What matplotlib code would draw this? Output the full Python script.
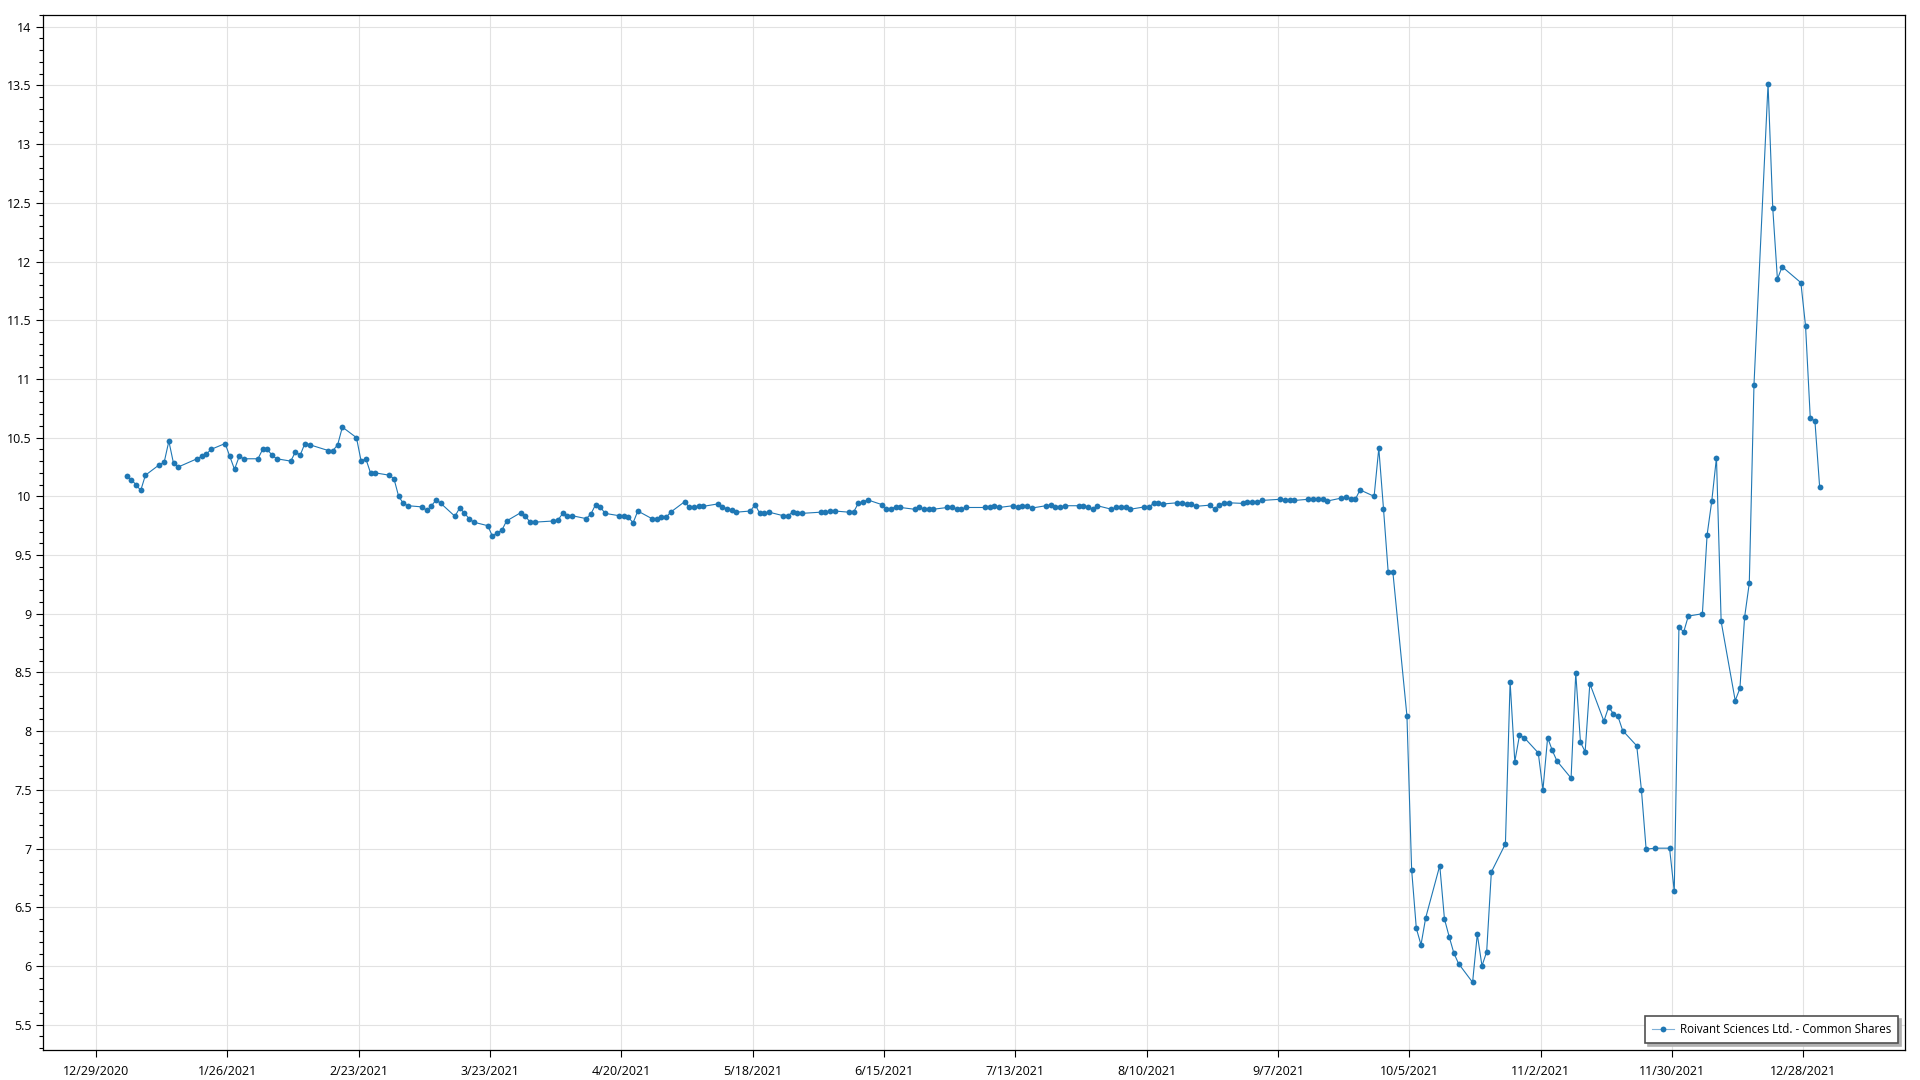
import numpy as np
import pandas as pd
import matplotlib
matplotlib.use("Agg")
import matplotlib.pyplot as plt
import matplotlib.dates as mdates
from matplotlib.ticker import MultipleLocator, FuncFormatter, FixedLocator

plt.rcParams['font.family'] = ['Open Sans', 'DejaVu Sans']

# trading days and closing prices, per month of 2021
jan_days = [4, 5, 6, 7, 8, 11, 12, 13, 14, 15, 19, 20, 21, 22, 25, 26, 27, 28, 29]
jan_close = [10.17, 10.14, 10.10, 10.05, 10.18, 10.27, 10.29, 10.47, 10.28, 10.25,
             10.32, 10.34, 10.36, 10.40, 10.45, 10.34, 10.23, 10.34, 10.32]
feb_days = [1, 2, 3, 4, 5, 8, 9, 10, 11, 12, 16, 17, 18, 19, 22, 23, 24, 25, 26]
feb_close = [10.32, 10.40, 10.40, 10.35, 10.32, 10.30, 10.38, 10.35, 10.45, 10.44,
             10.39, 10.39, 10.44, 10.59, 10.50, 10.30, 10.32, 10.20, 10.20]
mar_days = [1, 2, 3, 4, 5, 8, 9, 10, 11, 12, 15, 16, 17, 18, 19, 22, 23, 24, 25, 26, 29, 30, 31]
mar_close = [10.18, 10.15, 10.00, 9.94, 9.92, 9.91, 9.88, 9.92, 9.97, 9.94,
             9.83, 9.90, 9.86, 9.81, 9.78, 9.75, 9.66, 9.69, 9.71, 9.79, 9.86, 9.835, 9.78]
apr_days = [1, 5, 6, 7, 8, 9, 12, 13, 14, 15, 16, 19, 20, 21, 22, 23, 26, 27, 28, 29, 30]
apr_close = [9.78, 9.79, 9.80, 9.855, 9.835, 9.835, 9.81, 9.85, 9.93, 9.91, 9.855,
             9.835, 9.835, 9.82, 9.775, 9.875, 9.81, 9.81, 9.82, 9.82, 9.865]
may_days = [3, 4, 5, 6, 7, 10, 11, 12, 13, 14, 17, 18, 19, 20, 21, 24, 25, 26, 27, 28]
may_close = [9.955, 9.905, 9.905, 9.915, 9.915, 9.935, 9.905, 9.895, 9.885, 9.865,
             9.875, 9.93, 9.855, 9.855, 9.865, 9.835, 9.835, 9.865, 9.855, 9.855]
jun_days = [1, 2, 3, 4, 7, 8, 9, 10, 11, 14, 15, 16, 17, 18, 21, 22, 23, 24, 25, 28, 29, 30]
jun_close = [9.865, 9.865, 9.875, 9.875, 9.865, 9.865, 9.94, 9.95, 9.97, 9.93, 9.895,
             9.895, 9.91, 9.905, 9.89, 9.905, 9.89, 9.89, 9.89, 9.905, 9.905, 9.89]
jul_days = [1, 2, 6, 7, 8, 9, 12, 13, 14, 15, 16, 19, 20, 21, 22, 23, 26, 27, 28, 29, 30]
jul_close = [9.89, 9.905, 9.905, 9.905, 9.92, 9.905, 9.92, 9.905, 9.92, 9.92, 9.90,
             9.92, 9.925, 9.905, 9.905, 9.92, 9.92, 9.92, 9.905, 9.89, 9.92]
aug_days = [2, 3, 4, 5, 6, 9, 10, 11, 12, 13, 16, 17, 18, 19, 20, 23, 24, 25, 26, 27, 30, 31]
aug_close = [9.89, 9.905, 9.905, 9.905, 9.89, 9.91, 9.905, 9.945, 9.945, 9.935, 9.945,
             9.945, 9.935, 9.935, 9.915, 9.925, 9.89, 9.93, 9.94, 9.945, 9.94, 9.955]
sep_days = [1, 2, 3, 7, 8, 9, 10, 13, 14, 15, 16, 17, 20, 21, 22, 23, 24, 27, 28, 29, 30]
sep_close = [9.955, 9.955, 9.965, 9.975, 9.965, 9.965, 9.965, 9.975, 9.975, 9.975, 9.975,
             9.96, 9.985, 9.995, 9.98, 9.975, 10.055, 10.00, 10.41, 9.895, 9.355]
oct_days = [1, 4, 5, 6, 7, 8, 11, 12, 13, 14, 15, 18, 19, 20, 21, 22, 25, 26, 27, 28, 29]
oct_close = [9.355, 8.13, 6.82, 6.32, 6.18, 6.41, 6.855, 6.40, 6.25, 6.11, 6.02,
             5.86, 6.27, 6.00, 6.12, 6.80, 7.04, 8.42, 7.74, 7.965, 7.945]
nov_days = [1, 2, 3, 4, 5, 8, 9, 10, 11, 12, 15, 16, 17, 18, 19, 22, 23, 24, 26, 29, 30]
nov_close = [7.815, 7.50, 7.945, 7.835, 7.745, 7.60, 8.495, 7.905, 7.825, 8.405, 8.085,
             8.205, 8.15, 8.125, 8.005, 7.875, 7.50, 6.995, 7.003, 7.003, 6.635]
dec_days = [1, 2, 3, 6, 7, 8, 9, 10, 13, 14, 15, 16, 17, 20, 21, 22, 23, 27, 28, 29, 30, 31]
dec_close = [8.89, 8.843, 8.98, 9.0, 9.67, 9.96, 10.33, 8.934, 8.26, 8.364, 8.97,
             9.26, 10.95, 13.514, 12.457, 11.85, 11.956, 11.82, 11.45, 10.67, 10.64, 10.08]

tick_dates = ["2020-12-29", "2021-01-26", "2021-02-23", "2021-03-23", "2021-04-20",
              "2021-05-18", "2021-06-15", "2021-07-13", "2021-08-10", "2021-09-07",
              "2021-10-05", "2021-11-02", "2021-11-30", "2021-12-28"]

series_name = "Roivant Sciences Ltd. - Common Shares"

months = [jan_days, feb_days, mar_days, apr_days, may_days, jun_days,
          jul_days, aug_days, sep_days, oct_days, nov_days, dec_days]
closes = [jan_close, feb_close, mar_close, apr_close, may_close, jun_close,
          jul_close, aug_close, sep_close, oct_close, nov_close, dec_close]

# quotes are stamped at midday
dates = []
values = []
for m, (days, vals) in enumerate(zip(months, closes)):
    for d, v in zip(days, vals):
        dates.append(pd.Timestamp(2021, m + 1, d, 12))
        values.append(v)

fig = plt.figure(figsize=(19.2, 10.8), dpi=100)
ax = fig.add_axes([0.0222, 0.0278, 0.97, 0.9583])

line_col = "#1f77b4"
ax.plot(dates, values, color=line_col, lw=0.8, marker="o", markersize=4.2,
        markeredgewidth=0, label=series_name, zorder=3)

ax.set_xlim(pd.Timestamp("2020-12-17 14:00"), pd.Timestamp("2022-01-18 17:00"))
ax.set_ylim(5.284, 14.1)

ax.xaxis.set_major_locator(FixedLocator([mdates.date2num(pd.Timestamp(t)) for t in tick_dates]))
ax.xaxis.set_major_formatter(FuncFormatter(
    lambda x, pos: "{d.month}/{d.day}/{d.year}".format(d=mdates.num2date(x))))
ax.yaxis.set_major_locator(MultipleLocator(0.5))
ax.yaxis.set_minor_locator(MultipleLocator(0.1))
ax.yaxis.set_major_formatter(FuncFormatter(lambda v, pos: "{:g}".format(v)))

ax.tick_params(axis="both", which="major", length=5, width=0.8, labelsize=9,
               colors="black", pad=3)
ax.tick_params(axis="y", which="minor", length=3, width=0.8)
ax.tick_params(axis="x", pad=6)

ax.grid(True, which="major", color="#e2e2e2", lw=0.8, zorder=0)
ax.set_axisbelow(True)
for s in ax.spines.values():
    s.set_color("black")
    s.set_linewidth(0.9)

leg = ax.legend(loc="lower right", fontsize=8.3, frameon=True, fancybox=False,
                shadow={"color": "#b0b0b0", "alpha": 1.0}, borderaxespad=0.6,
                handlelength=1.9, borderpad=0.6, handletextpad=0.5)
leg.get_frame().set_edgecolor("#505050")
leg.get_frame().set_linewidth(1.2)
leg_line = leg.get_lines()[0]
leg_line.set_color("#7fb0d8")
leg_line.set_markerfacecolor(line_col)

fig.savefig("out.png", dpi=100)
